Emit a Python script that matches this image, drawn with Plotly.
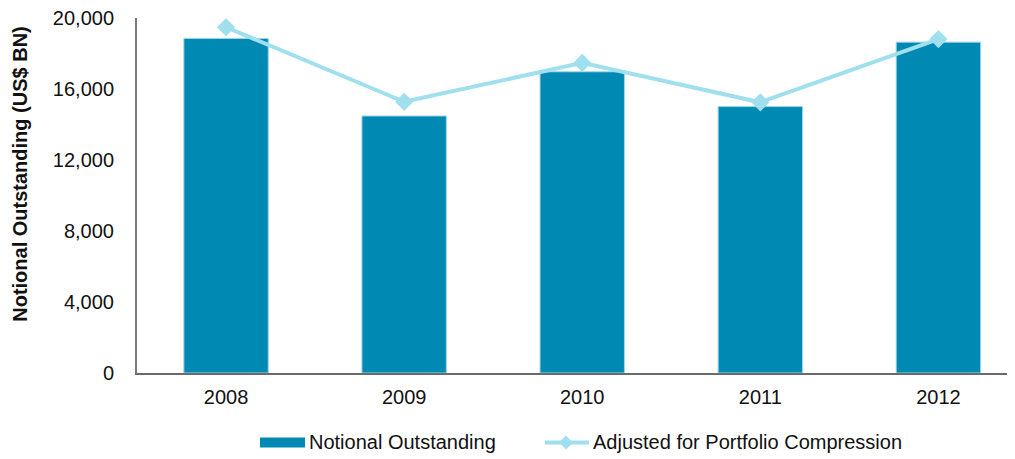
import plotly.graph_objects as go

# data
years = ["2008", "2009", "2010", "2011", "2012"]
notional = [18850, 14480, 16970, 15010, 18640]
adjusted = [19480, 15280, 17470, 15250, 18810]
y_ticks = [0, 4000, 8000, 12000, 16000, 20000]

bar_color = "#0089B3"
line_color = "#A0E0EE"
font = "Liberation Sans, Arial, sans-serif"
fs = 20

OFF = 8  # the page body adds an 8px margin, so shift everything back
W, H = 1015 - OFF, 459 - OFF
# plot box, in screen pixels
sx0, sx1, sy0, sy1 = 137, 1015, 18, 373.5
L, R, T, B = sx0 - OFF, W - (sx1 - OFF), sy0 - OFF, H - (sy1 - OFF)
pw, ph = sx1 - sx0, sy1 - sy0


def px(x):
    return (x - sx0) / pw


def py(y):
    return (sy1 - y) / ph


fig = go.Figure()
fig.add_trace(go.Bar(x=years, y=notional, name="Notional Outstanding",
                     marker=dict(color=bar_color, line=dict(color="#9FD6E6", width=1))))
fig.add_trace(go.Scatter(x=years, y=adjusted, name="Adjusted for Portfolio Compression",
                         mode="lines+markers",
                         line=dict(color=line_color, width=4),
                         marker=dict(symbol="diamond", size=14, color=line_color)))

fig.update_layout(
    width=W, height=H,
    margin=dict(l=L, r=R, t=T, b=B),
    plot_bgcolor="white", paper_bgcolor="white",
    font=dict(family=font, size=fs, color="#111111"),
    bargap=0.526,
    showlegend=False,
)
fig.update_xaxes(type="category", range=[-0.5, 4.43], showline=True, linecolor="#6B6B6B",
                 linewidth=2, ticks="", showgrid=False, automargin=False,
                 ticklabelstandoff=5)
fig.update_yaxes(range=[0, 20000], tickvals=y_ticks, tickformat=",", showline=True,
                 linecolor="#7A7A7A", linewidth=2, ticks="", showgrid=False,
                 zeroline=False, ticklabelstandoff=17, automargin=False,
                 ticklabeloverflow="allow")
fig.add_annotation(text="<b>Notional Outstanding (US$ BN)</b>", textangle=-90,
                   xref="paper", yref="paper", x=px(20), y=py(174), xanchor="center",
                   yanchor="middle", showarrow=False, font=dict(size=fs, color="#111111"))

# legend, drawn by hand to get the wide swatches
ly = 443
fig.add_shape(type="rect", xref="paper", yref="paper", x0=px(260), x1=px(305),
              y0=py(448), y1=py(438), fillcolor=bar_color, line=dict(width=0))
fig.add_annotation(text="Notional Outstanding", xref="paper", yref="paper",
                   x=px(307), y=py(ly), xanchor="left", yanchor="middle",
                   showarrow=False, font=dict(size=fs, color="#111111"))
fig.add_shape(type="line", xref="paper", yref="paper", x0=px(545), x1=px(589),
              y0=py(ly), y1=py(ly), line=dict(color=line_color, width=4))
fig.add_shape(type="path", xref="paper", yref="paper",
              path=f"M {px(566)},{py(ly-7)} L {px(573)},{py(ly)} L {px(566)},{py(ly+7)} "
                   f"L {px(559)},{py(ly)} Z",
              fillcolor=line_color, line=dict(width=0))
fig.add_annotation(text="Adjusted for Portfolio Compression", xref="paper", yref="paper",
                   x=px(591), y=py(ly), xanchor="left", yanchor="middle",
                   showarrow=False, font=dict(size=fs, color="#111111"))

fig.write_html("out.html")
